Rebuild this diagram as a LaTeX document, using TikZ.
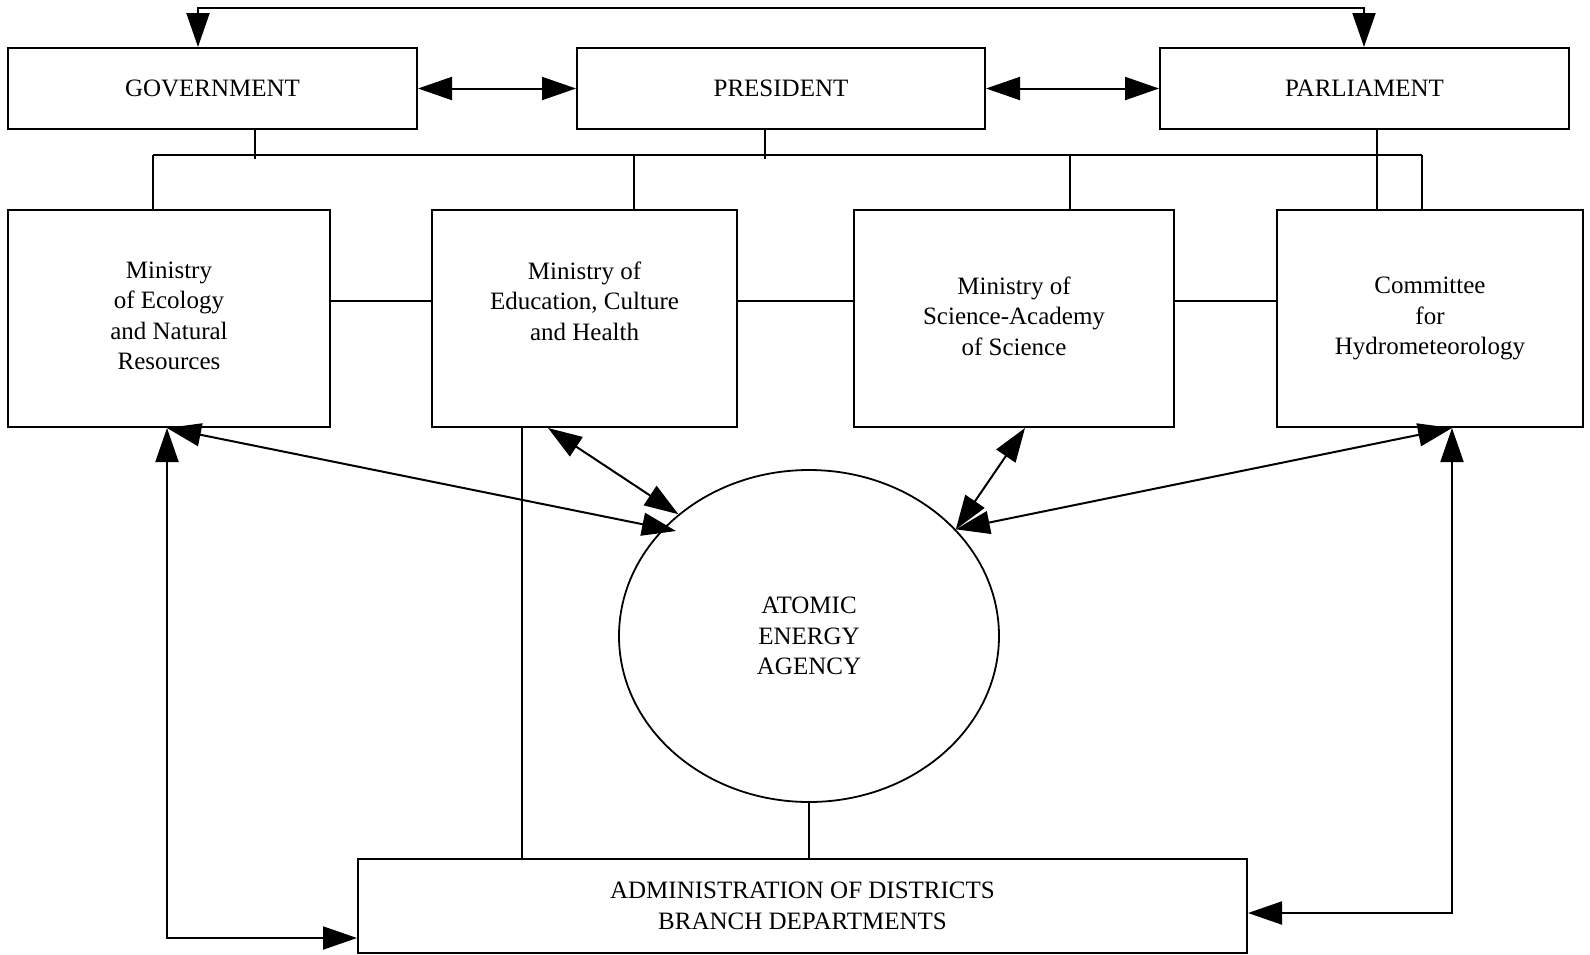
\documentclass[tikz,border=0pt]{standalone}
\usepackage{fontspec}
\setmainfont{Liberation Serif}
\usetikzlibrary{arrows.meta,shapes.geometric,calc}
\begin{document}
\begin{tikzpicture}[x=0.5pt,y=-0.5pt,
  txt/.style={align=center,font=\fontsize{12.5}{15.2}\selectfont},
  box/.style={draw,line width=1pt,rectangle,inner sep=0pt,txt},
  link/.style={line width=1pt},
  dbl/.style={line width=1pt,{Triangle[length=17pt,width=11.5pt]}-{Triangle[length=17pt,width=11.5pt]}},
]
\useasboundingbox (0,0) rectangle (1590,954);

% top level
\node[box,minimum width=204.5pt,minimum height=40.5pt] (gov)  at (212.5,88.5) {GOVERNMENT};
\node[box,minimum width=204pt,minimum height=40.5pt]   (pres) at (781,88.5)   {PRESIDENT};
\node[box,minimum width=204.5pt,minimum height=40.5pt] (parl) at (1364.5,88.5) {PARLIAMENT};

% ministries
\node[box,minimum width=161pt,minimum height=108.5pt] (eco) at (169,318.5) {};
\node[txt] (ecoT) at (169,316) {Ministry\\of Ecology\\and Natural\\Resources};
\node[box,minimum width=152.5pt,minimum height=108.5pt] (edu) at (584.5,318.5) {};
\node[txt] (eduT) at (584.5,301) {Ministry of\\Education, Culture\\and Health};
\node[box,minimum width=160pt,minimum height=108.5pt] (sci) at (1014,318.5) {};
\node[txt] (sciT) at (1014,316) {Ministry of\\Science-Academy\\of Science};
\node[box,minimum width=153pt,minimum height=108.5pt] (com) at (1430,318.5)
  {Committee\\for\\Hydrometeorology};

% agency
\node[draw,ellipse,line width=0.9pt,inner sep=0pt,minimum width=190pt,minimum height=166pt,txt]
  (aea) at (809,636) {ATOMIC\\ENERGY\\AGENCY};

% districts
\node[box,minimum width=444.5pt,minimum height=47pt] (adm) at (802.5,906)
  {ADMINISTRATION OF DISTRICTS\\BRANCH DEPARTMENTS};

% top loop between government and parliament
\coordinate (topL) at (198,8);
\coordinate (topR) at (1364,8);
\draw[dbl] (gov.north -| topL) -- (topL) -- (topR) -- (parl.north -| topR);

% horizontal arrows between top boxes
\draw[dbl] (gov.east) -- (pres.west);
\draw[dbl] (pres.east) -- (parl.west);

% bus line under the top level
\coordinate (busL) at (153,155);
\coordinate (busR) at (1422,155);
\draw[link] (busL) -- (busR);
\coordinate (g1) at ($(gov.south west)+(248,0)$);
\coordinate (p1) at ($(pres.south west)+(189,0)$);
\coordinate (r1) at ($(parl.south west)+(218,0)$);
\draw[link] (g1) -- ++(0,29);
\draw[link] (p1) -- ++(0,29);
\draw[link] (r1) -- (com.north -| r1);
\coordinate (e1) at ($(edu.north west)+(203,0)$);
\coordinate (s1) at ($(sci.north west)+(217,0)$);
\draw[link] (busL) -- (eco.north -| busL);
\draw[link] (e1) -- (e1 |- busL);
\draw[link] (s1) -- (s1 |- busL);
\draw[link] (busR) -- (com.north -| busR);

% links between ministries
\draw[link] ($(eco.north east)+(0,92)$) -- ($(edu.north west)+(0,92)$);
\draw[link] ($(edu.north east)+(0,92)$) -- ($(sci.north west)+(0,92)$);
\draw[link] ($(sci.north east)+(0,92)$) -- ($(com.north west)+(0,92)$);

% arrows to the agency
\coordinate (lx) at (167,938);
\coordinate (rx) at (1452,913);
\draw[dbl] (eco.south -| lx) -- ($(aea.center)+(-133,-105)$);
\draw[dbl] ($(edu.south west)+(117,0)$) -- (aea.137);
\draw[dbl] ($(sci.south west)+(172,0)$) -- (aea.36);
\draw[dbl] (com.south -| rx) -- (aea.36);

% outer loops to the districts
\draw[dbl] (adm.west |- lx) -- (lx) -- (eco.south -| lx);
\draw[dbl] (adm.east |- rx) -- (rx) -- (com.south -| rx);

% vertical links to the districts
\coordinate (ev) at ($(edu.south west)+(91,0)$);
\draw[link] (ev) -- (adm.north -| ev);
\draw[link] (aea.south) -- (adm.north -| aea.south);
\end{tikzpicture}
\end{document}
